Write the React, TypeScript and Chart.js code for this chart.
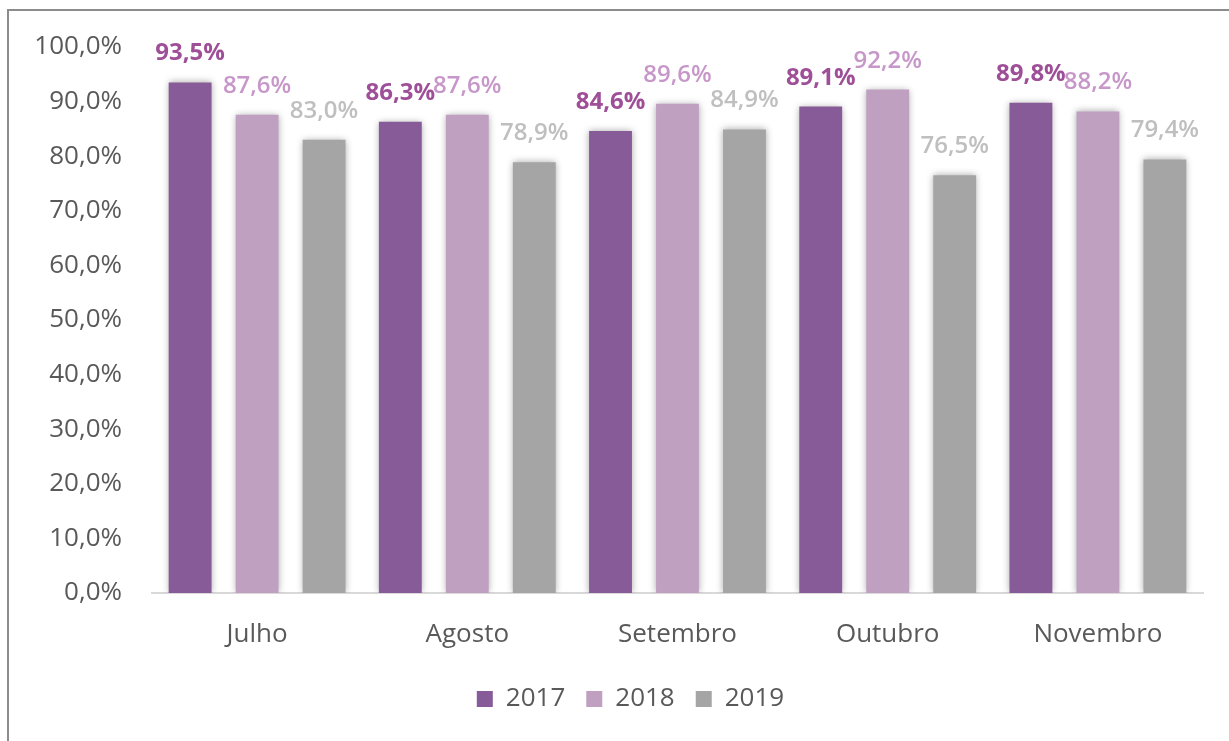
import React, { useEffect, useRef } from "react";
import { Chart, registerables } from "chart.js";

Chart.register(...registerables);

const categories = ["Julho", "Agosto", "Setembro", "Outubro", "Novembro"];
const seriesNames = ["2017", "2018", "2019"];
const values2017 = [93.5, 86.3, 84.6, 89.1, 89.8];
const values2018 = [87.6, 87.6, 89.6, 92.2, 88.2];
const values2019 = [83.0, 78.9, 84.9, 76.5, 79.4];
const barColors = ["#875A98", "#C0A0C1", "#A5A5A5"];
const labelColors = ["#9E4F97", "#C797C9", "#BFBFBF"];
const labelWeights = ["bold", "600", "600"];

const FONT = '"Open Sans", "Noto Sans", sans-serif';
const fmt = (v: number) => v.toFixed(1).replace(".", ",") + "%";

const decorPlugin = {
  id: "decor",
  afterLayout(chart: any) {
    const lg = chart.legend;
    if (lg) lg.left += 58;
  },
  beforeDatasetsDraw(chart: any) {
    const ctx = chart.ctx;
    ctx.save();
    ctx.shadowColor = "rgba(0,0,0,0.35)";
    ctx.shadowBlur = 7;
    ctx.shadowOffsetX = 0;
    ctx.shadowOffsetY = 0;
  },
  afterDatasetsDraw(chart: any) {
    const ctx = chart.ctx;
    ctx.restore();
    chart.data.datasets.forEach((ds: any, i: number) => {
      const meta = chart.getDatasetMeta(i);
      ctx.save();
      ctx.font = `${labelWeights[i]} 24px ${FONT}`;
      ctx.fillStyle = labelColors[i];
      ctx.textAlign = "center";
      ctx.textBaseline = "alphabetic";
      meta.data.forEach((bar: any, j: number) => {
        ctx.fillText(fmt(ds.data[j]), bar.x, bar.y - 22);
      });
      ctx.restore();
    });
  },
};

export default function App() {
  const ref = useRef<HTMLCanvasElement>(null);
  useEffect(() => {
    if (!ref.current) return;
    const seriesValues = [values2017, values2018, values2019];
    const chart = new Chart(ref.current, {
      type: "bar",
      data: {
        labels: categories,
        datasets: seriesNames.map((name, i) => ({
          label: name,
          data: seriesValues[i],
          backgroundColor: barColors[i],
          borderWidth: 0,
          categoryPercentage: 0.956,
          barPercentage: 0.64,
        })),
      },
      options: {
        responsive: false,
        animation: false,
        layout: { padding: { left: 0, right: 26, top: 47, bottom: 19 } },
        plugins: {
          legend: {
            position: "bottom",
            labels: {
              boxWidth: 16,
              boxHeight: 16,
              padding: 21,
              color: "#595959",
              font: { family: FONT, size: 26 },
            },
          },
          tooltip: { enabled: false },
        },
        scales: {
          x: {
            grid: { display: false, drawTicks: false },
            border: { display: true, color: "#D9D9D9", width: 2 },
            ticks: {
              color: "#595959",
              padding: 26,
              font: { family: FONT, size: 26 },
              maxRotation: 0,
            },
            afterFit: (s: any) => {
              s.height = 72;
            },
          },
          y: {
            min: 0,
            max: 100,
            grid: { display: false, drawTicks: false },
            border: { display: false },
            ticks: {
              stepSize: 10,
              color: "#595959",
              padding: 30,
              font: { family: FONT, size: 26 },
              callback: (v: any) => fmt(Number(v)),
            },
            afterFit: (s: any) => {
              s.width = 152;
            },
          },
        },
      },
      plugins: [decorPlugin],
    });
    return () => chart.destroy();
  }, []);

  return (
    <div
      style={{
        position: "fixed",
        left: 0,
        top: 0,
        width: 1229,
        height: 741,
        overflow: "hidden",
        background: "#fff",
      }}
    >
      <div
        style={{
          position: "absolute",
          left: 7,
          top: 9,
          width: 1240,
          height: 760,
          borderLeft: "2px solid #8C8C8C",
          borderTop: "2px solid #8C8C8C",
        }}
      />
      <canvas
        ref={ref}
        width={1229}
        height={741}
        style={{ position: "absolute", left: 0, top: 0, width: 1229, height: 741 }}
      />
    </div>
  );
}
